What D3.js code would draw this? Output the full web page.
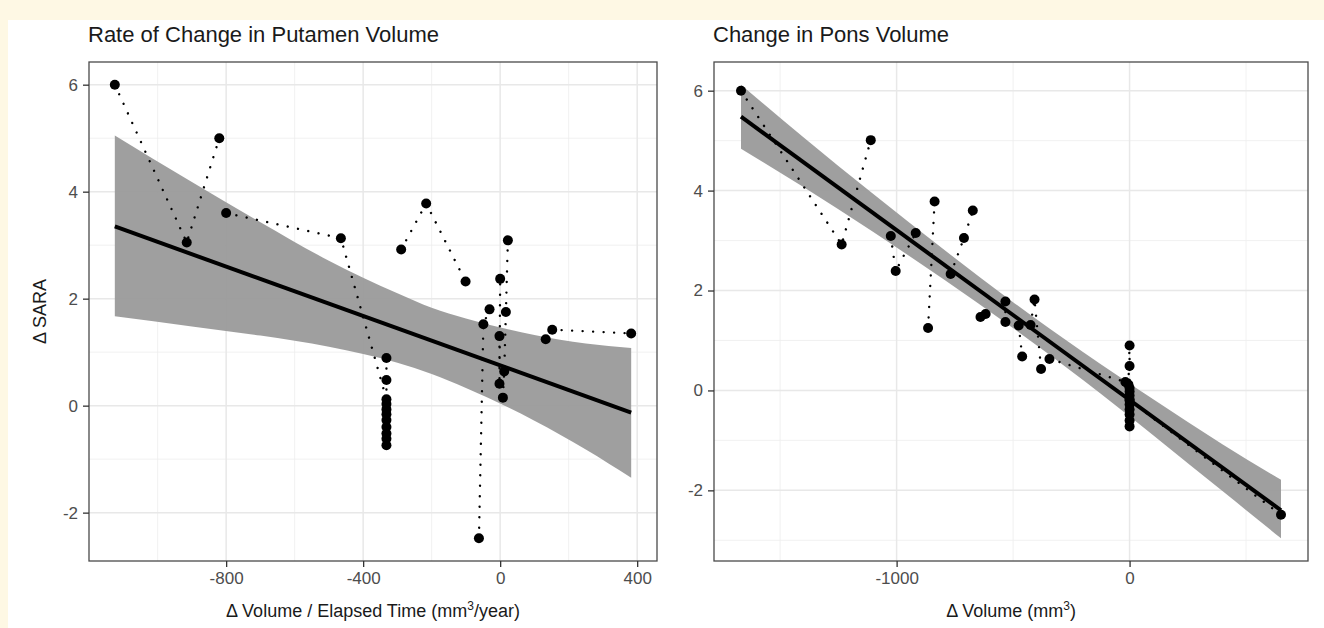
<!DOCTYPE html>
<html>
<head>
<meta charset="utf-8">
<script src="https://cdn.jsdelivr.net/npm/d3@7"></script>
<style>
body { margin: 0; background: #fff; }
text { font-family: "Liberation Sans", Arial, Helvetica, sans-serif; }
</style>
</head>
<body>
<svg id="chart" width="1324" height="628"></svg>
<script>
// ---- putamen panel: rate of change vs delta SARA ----
var putX = [-1125, -915, -820, -800, -465, -332,
    -332, -332, -332, -332, -332, -332, -332, -332, -332, -332,
    -289, -216, -101, -62, -49, -31, 0, -2, -2,
    22.5, 16.7, 11.8, 8, 133, 152, 382.5];
var putY = [6, 3.05, 5, 3.6, 3.13, 0.12,
    0.89, 0.48, 0.03, -0.07, -0.16, -0.27, -0.4, -0.52, -0.62, -0.74,
    2.92, 3.78, 2.32, -2.48, 1.52, 1.8, 2.37, 1.3, 0.41,
    3.09, 1.75, 0.64, 0.15, 1.24, 1.42, 1.35];
var putGroup = [1, 1, 1, 2, 2, 2,
    3, 3, 3, 3, 3, 3, 3, 3, 3, 3,
    4, 4, 4, 5, 5, 5, 6, 6, 6,
    7, 7, 7, 7, 8, 8, 8];
var putFitX = [-1125, 382.5];
var putFitY = [3.35, -0.13];
var putBandX = [-1125, -900, -700, -500, -300, -200, -100, 100, 250, 382.5];
var putBandLo = [1.67, 1.48, 1.31, 1.10, 0.80, 0.59, 0.33, -0.28, -0.82, -1.35];
var putBandHi = [5.05, 4.18, 3.43, 2.71, 2.10, 1.83, 1.63, 1.32, 1.16, 1.08];
var putXMajor = [-800, -400, 0, 400];
var putXMinor = [-1000, -600, -200, 200];

// ---- pons panel: delta volume vs delta SARA ----
var ponsX = [-1668, -1236, -1111, -1025, -1004, -918, -865, -837,
    -768, -711, -673, -640, -618, -533, -533, -476, -461,
    -425, -408, -380, -344, -18,
    0, 0, -5, 0, 0, 0, 0, 0, 0, 0, 0, 0,
    0, 650];
var ponsY = [6, 2.92, 5.01, 3.09, 2.39, 3.15, 1.25, 3.78,
    2.33, 3.05, 3.6, 1.47, 1.53, 1.78, 1.37, 1.30, 0.68,
    1.31, 1.82, 0.43, 0.63, 0.17,
    0.9, 0.49, 0.12, 0.05, -0.02, -0.1, -0.18, -0.28, -0.38, -0.48, -0.6, -0.72,
    -0.2, -2.49];
var ponsGroup = [1, 1, 1, 2, 2, 2, 3, 3,
    4, 4, 4, 5, 5, 6, 6, 7, 7,
    8, 8, 8, 9, 9,
    10, 10, 10, 10, 10, 10, 10, 10, 10, 10, 10, 10,
    11, 11];
var ponsFitX = [-1668, 650];
var ponsFitY = [5.48, -2.40];
var ponsBandX = [-1668, -1400, -1100, -800, -510, -200, 100, 400, 650];
var ponsBandLo = [4.84, 4.07, 3.17, 2.23, 1.28, 0.21, -0.89, -2.02, -2.96];
var ponsBandHi = [6.12, 5.07, 3.93, 2.83, 1.80, 0.77, -0.17, -1.08, -1.79];
var ponsXMajor = [-1000, 0];
var ponsXMinor = [-1500, -500, 500];

var yMajor = [-2, 0, 2, 4, 6];
var yMinor = [-3, -1, 1, 3, 5];

var svg = d3.select("#chart");

// page background with the cream edge
svg.append("rect").attr("width", 1324).attr("height", 628).attr("fill", "#fef8e4");
svg.append("rect").attr("x", 8).attr("y", 20).attr("width", 1316).attr("height", 608).attr("fill", "#fff");

// ggplot style 5% expansion
function expand(lo, hi) {
    var d = (hi - lo) * 0.05;
    return [lo - d, hi + d];
}

function drawPanel(p) {
    var xs = p.x.concat(p.bandX);
    var ys = p.y.concat(p.bandLo, p.bandHi);
    var xScale = d3.scaleLinear().domain(expand(d3.min(xs), d3.max(xs))).range([p.left, p.right]);
    var yScale = d3.scaleLinear().domain(expand(d3.min(ys), d3.max(ys))).range([p.bottom, p.top]);
    var yMinorIn = yMinor.filter(v => v > yScale.domain()[0] && v < yScale.domain()[1]);

    var g = svg.append("g");
    g.append("rect")
        .attr("x", p.left).attr("y", p.top)
        .attr("width", p.right - p.left).attr("height", p.bottom - p.top)
        .attr("fill", "#fff");

    // grid
    g.selectAll(".xminor").data(p.xMinor).enter().append("line")
        .attr("x1", d => xScale(d)).attr("x2", d => xScale(d))
        .attr("y1", p.top).attr("y2", p.bottom)
        .attr("stroke", "#ededed").attr("stroke-width", 0.8);
    g.selectAll(".yminor").data(yMinorIn).enter().append("line")
        .attr("y1", d => yScale(d)).attr("y2", d => yScale(d))
        .attr("x1", p.left).attr("x2", p.right)
        .attr("stroke", "#ededed").attr("stroke-width", 0.8);
    g.selectAll(".xmajor").data(p.xMajor).enter().append("line")
        .attr("x1", d => xScale(d)).attr("x2", d => xScale(d))
        .attr("y1", p.top).attr("y2", p.bottom)
        .attr("stroke", "#e8e8e8").attr("stroke-width", 1.5);
    g.selectAll(".ymajor").data(yMajor).enter().append("line")
        .attr("y1", d => yScale(d)).attr("y2", d => yScale(d))
        .attr("x1", p.left).attr("x2", p.right)
        .attr("stroke", "#e8e8e8").attr("stroke-width", 1.5);

    // confidence band
    var band = p.bandX.map((v, i) => ({x: v, lo: p.bandLo[i], hi: p.bandHi[i]}));
    g.append("path")
        .datum(band)
        .attr("d", d3.area().curve(d3.curveMonotoneX)
            .x(d => xScale(d.x)).y0(d => yScale(d.lo)).y1(d => yScale(d.hi)))
        .attr("fill", "#9a9a9a").attr("fill-opacity", 0.95);

    // subject trajectories (dotted)
    var pts = p.x.map((v, i) => ({x: v, y: p.y[i], g: p.group[i], i: i}));
    var groups = d3.groups(pts, d => d.g);
    var line = d3.line().x(d => xScale(d.x)).y(d => yScale(d.y));
    groups.forEach(function(gr) {
        var s = gr[1].slice().sort((a, b) => (a.x - b.x) || (a.i - b.i));
        g.append("path").attr("d", line(s))
            .attr("fill", "none").attr("stroke", "#000")
            .attr("stroke-width", 2.4).attr("stroke-linecap", "round")
            .attr("stroke-dasharray", "0.01 10.5");
    });

    // points
    g.selectAll(".pt").data(pts).enter().append("circle")
        .attr("cx", d => xScale(d.x)).attr("cy", d => yScale(d.y))
        .attr("r", 5).attr("fill", "#000");

    // fitted line
    var fit = p.fitX.map((v, i) => ({x: v, y: p.fitY[i]}));
    g.append("path").attr("d", line(fit))
        .attr("fill", "none").attr("stroke", "#000").attr("stroke-width", 4);

    // border
    g.append("rect")
        .attr("x", p.left).attr("y", p.top)
        .attr("width", p.right - p.left).attr("height", p.bottom - p.top)
        .attr("fill", "none").attr("stroke", "#4a4a4a").attr("stroke-width", 1.3);

    // axes
    var xAxis = g.append("g").attr("transform", `translate(0, ${p.bottom})`)
        .call(d3.axisBottom(xScale).tickValues(p.xMajor).tickSize(6).tickPadding(5).tickFormat(d3.format("d")));
    var yAxis = g.append("g").attr("transform", `translate(${p.left}, 0)`)
        .call(d3.axisLeft(yScale).tickValues(yMajor).tickSize(6).tickPadding(5).tickFormat(d3.format("d")));
    [xAxis, yAxis].forEach(function(a) {
        a.select(".domain").remove();
        a.selectAll(".tick line").attr("stroke", "#333").attr("stroke-width", 1.3);
        a.selectAll(".tick text").attr("fill", "#4d4d4d").style("font-size", "17px")
            .style("font-family", "'Liberation Sans', Arial, sans-serif");
    });
    xAxis.selectAll(".tick text").text(d => d < 0 ? "-" + Math.abs(d) : d);
    yAxis.selectAll(".tick text").text(d => d < 0 ? "-" + Math.abs(d) : d);

    // title
    g.append("text").attr("x", p.left - 1).attr("y", 42)
        .style("font-size", "22px").attr("fill", "#1a1a1a").text(p.title);

    // x axis title with superscript
    var xt = g.append("text").attr("x", (p.left + p.right) / 2).attr("y", 617)
        .attr("text-anchor", "middle").style("font-size", "18px").attr("fill", "#1a1a1a");
    xt.append("tspan").text(p.xLabel[0]);
    xt.append("tspan").attr("dy", -7).style("font-size", "12px").text("3");
    xt.append("tspan").attr("dy", 7).text(p.xLabel[1]);

    if (p.yLabel) {
        g.append("text")
            .attr("transform", `translate(46, ${(p.top + p.bottom) / 2}) rotate(-90)`)
            .attr("text-anchor", "middle").style("font-size", "18px").attr("fill", "#1a1a1a")
            .text(p.yLabel);
    }
}

drawPanel({
    left: 89, right: 657, top: 62, bottom: 561,
    x: putX, y: putY, group: putGroup,
    fitX: putFitX, fitY: putFitY,
    bandX: putBandX, bandLo: putBandLo, bandHi: putBandHi,
    xMajor: putXMajor, xMinor: putXMinor,
    title: "Rate of Change in Putamen Volume",
    xLabel: ["\u0394 Volume / Elapsed Time (mm", "/year)"],
    yLabel: "\u0394 SARA"
});

drawPanel({
    left: 714, right: 1308, top: 62, bottom: 561,
    x: ponsX, y: ponsY, group: ponsGroup,
    fitX: ponsFitX, fitY: ponsFitY,
    bandX: ponsBandX, bandLo: ponsBandLo, bandHi: ponsBandHi,
    xMajor: ponsXMajor, xMinor: ponsXMinor,
    title: "Change in Pons Volume",
    xLabel: ["\u0394 Volume (mm", ")"],
    yLabel: null
});
</script>
</body>
</html>
